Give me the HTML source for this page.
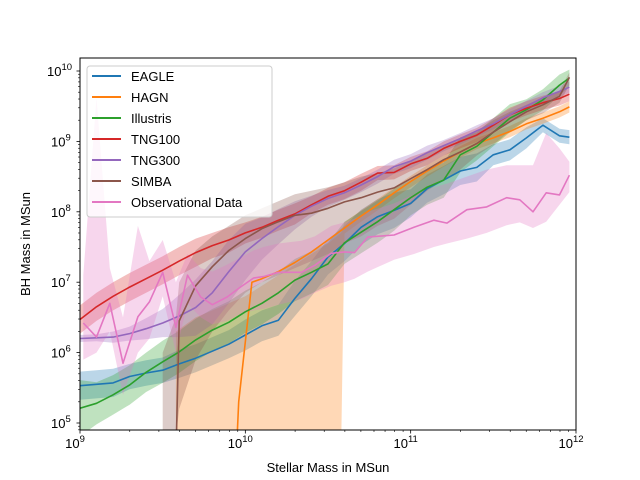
<!DOCTYPE html>
<html><head><meta charset="utf-8">
<style>
html,body{margin:0;padding:0;background:#fff;}
svg{display:block;font-family:"Liberation Sans","DejaVu Sans",sans-serif;}
</style></head>
<body>
<svg id="chart" width="640" height="480" viewBox="0 0 640 480">
<defs><clipPath id="clip"><rect x="80" y="58" width="496" height="372"/></clipPath></defs>
<rect x="0" y="0" width="640" height="480" fill="#fff"/>
<g clip-path="url(#clip)">
<g id="bands"></g>
<g id="lines"></g>
</g>
<rect x="80" y="58" width="496" height="372" fill="none" stroke="#000" stroke-width="1"/>
<g id="axes"></g>
<text x="328" y="472" text-anchor="middle" font-size="13">Stellar Mass in MSun</text>
<text transform="translate(30,244) rotate(-90)" text-anchor="middle" font-size="13">BH Mass in MSun</text>
<g id="legend"></g>
</svg>
<script>
// ---- data (log10 values) ----
const seriesNames = ["EAGLE","HAGN","Illustris","TNG100","TNG300","SIMBA","Observational Data"];
const seriesColors = ["#1f77b4","#ff7f0e","#2ca02c","#d62728","#9467bd","#8c564b","#e377c2"];
const gridX = [9.0,9.1,9.2,9.3,9.4,9.5,9.6,9.7,9.8,9.9,10.0,10.1,10.2,10.3,10.4,10.5,10.6,10.7,10.8,10.9,11.0,11.1,11.2,11.3,11.4,11.5,11.6,11.7,11.8,11.9,11.96];
const eagleY = [5.53,5.55,5.57,5.66,5.71,5.75,5.84,5.92,6.02,6.12,6.25,6.38,6.46,6.77,7.05,7.36,7.55,7.78,7.93,8.02,8.12,8.33,8.45,8.58,8.63,8.81,8.88,9.05,9.23,9.08,9.06];
const eagleW = [0.2,0.2,0.2,0.18,0.18,0.18,0.2,0.2,0.2,0.2,0.22,0.22,0.22,0.25,0.25,0.25,0.25,0.25,0.25,0.25,0.2,0.2,0.2,0.2,0.2,0.15,0.15,0.15,0.1,0.1,0.1];
const illustrisY = [5.21,5.28,5.40,5.54,5.72,5.87,6.01,6.18,6.32,6.43,6.58,6.70,6.85,7.03,7.14,7.26,7.56,7.71,7.86,8.03,8.20,8.35,8.45,8.81,8.93,9.13,9.33,9.45,9.59,9.80,9.90];
const illustrisW = [0.4,0.3,0.28,0.28,0.28,0.3,0.3,0.3,0.3,0.3,0.3,0.3,0.3,0.3,0.3,0.3,0.3,0.3,0.3,0.3,0.25,0.25,0.25,0.25,0.2,0.2,0.2,0.15,0.15,0.15,0.12];
const tng100Y = [6.47,6.65,6.80,6.93,7.05,7.17,7.30,7.42,7.52,7.60,7.70,7.78,7.88,7.97,8.10,8.22,8.30,8.42,8.55,8.56,8.68,8.76,8.90,9.00,9.09,9.23,9.38,9.47,9.55,9.61,9.67];
const tng100W = [0.2,0.2,0.2,0.2,0.2,0.2,0.2,0.2,0.18,0.18,0.15,0.15,0.15,0.15,0.12,0.12,0.12,0.12,0.1,0.1,0.1,0.1,0.1,0.1,0.1,0.1,0.1,0.1,0.1,0.1,0.1];
const tng300Y = [6.20,6.21,6.22,6.27,6.34,6.42,6.52,6.64,6.85,7.15,7.43,7.62,7.79,7.95,8.08,8.19,8.27,8.38,8.50,8.64,8.72,8.84,8.94,9.04,9.15,9.25,9.38,9.50,9.62,9.71,9.77];
const tng300W = [0.05,0.05,0.08,0.1,0.15,0.2,0.3,0.4,0.45,0.45,0.4,0.3,0.25,0.2,0.15,0.12,0.1,0.1,0.1,0.1,0.1,0.1,0.08,0.08,0.08,0.08,0.08,0.08,0.08,0.08,0.08];
const simbaX = [9.5,9.58,9.6,9.7,9.8,9.9,10.0,10.1,10.2,10.3,10.4,10.5,10.6,10.7,10.8,10.9,11.0,11.1,11.2,11.3,11.4,11.5,11.6,11.7,11.8,11.9,11.96];
const simbaY = [null,4.5,6.45,6.95,7.22,7.45,7.62,7.76,7.86,7.95,7.98,8.05,8.14,8.20,8.28,8.34,8.47,8.60,8.74,8.85,8.97,9.13,9.28,9.42,9.52,9.64,9.91];
const simbaLo = [4.8,4.8,5.2,5.9,6.3,6.6,6.85,7.0,7.1,7.2,7.3,7.4,7.55,7.65,7.8,7.9,8.1,8.3,8.45,8.6,8.8,8.95,9.15,9.3,9.4,9.55,9.8];
const simbaHi = [6.0,6.5,7.0,7.45,7.65,7.8,7.95,8.05,8.15,8.25,8.3,8.35,8.42,8.5,8.55,8.62,8.72,8.85,8.95,9.05,9.15,9.3,9.42,9.52,9.62,9.72,9.98];
const hagnX = [9.95,9.96,10.04,10.1,10.2,10.3,10.4,10.5,10.6,10.7,10.8,10.9,11.0,11.1,11.2,11.3,11.4,11.5,11.6,11.7,11.8,11.9,11.96];
const hagnY = [4.8,5.3,7.0,7.05,7.15,7.28,7.43,7.60,7.77,7.94,8.10,8.27,8.43,8.58,8.72,8.85,8.97,9.05,9.14,9.25,9.33,9.42,9.49];
const hagnFillX = [9.58,9.7,9.8,9.9,10.0,10.1,10.2,10.3,10.4,10.5,10.58];
const hagnFillHi = [6.3,6.5,6.6,6.7,6.8,6.95,7.1,7.25,7.4,7.55,7.7];
const obsX = [9.02,9.1,9.18,9.26,9.35,9.42,9.5,9.58,9.65,9.73,9.8,9.89,9.97,10.05,10.11,10.2,10.34,10.42,10.52,10.6,10.66,10.74,10.9,11.02,11.14,11.22,11.34,11.46,11.58,11.66,11.74,11.82,11.9,11.96];
const obsY = [6.42,6.22,6.70,5.85,6.51,6.72,7.14,6.36,7.10,6.79,6.68,6.79,6.93,7.06,7.08,7.14,7.14,7.24,7.41,7.43,7.42,7.64,7.67,7.78,7.88,7.84,8.03,8.07,8.20,8.17,8.00,8.27,8.24,8.52];
const obsHi = [7.1,9.62,7.2,6.5,7.8,7.3,7.6,7.0,7.4,7.2,7.15,7.25,7.35,7.45,7.5,7.55,7.59,7.65,7.8,7.85,7.9,8.0,8.12,8.25,8.35,8.4,8.5,8.6,8.66,8.66,8.66,9.12,8.9,8.71];
const obsLo = [5.9,6.0,6.3,5.4,6.0,6.2,6.8,6.0,6.7,6.5,6.4,6.45,6.55,6.6,6.62,6.68,6.76,6.85,6.95,7.0,7.05,7.15,7.32,7.4,7.5,7.55,7.62,7.7,7.81,7.85,7.77,7.86,8.1,8.28];
const xTickLabels = ["9","10","11","12"];
const yTickLabels = ["5","6","7","8","9","10"];

// ---- axis functions ----
const sx = l => 80 + (l - 9) * 496 / 3;
const sy = l => 71 + (10 - l) * 70.4;
const NS = "http://www.w3.org/2000/svg";
const bands = document.getElementById("bands");
const lines = document.getElementById("lines");
const axes = document.getElementById("axes");
function mk(tag, attrs, parent){ const e=document.createElementNS(NS,tag); for(const k in attrs) e.setAttribute(k,attrs[k]); parent.appendChild(e); return e; }
function clampY(v){ return v===null ? 4.5 : v; }
function linePath(xs, ys){ return xs.map((x,i)=>(i?"L":"M")+sx(x).toFixed(1)+","+sy(clampY(ys[i])).toFixed(1)).join(" "); }
function bandPath(xs, lo, hi){
  let d = xs.map((x,i)=>(i?"L":"M")+sx(x).toFixed(1)+","+sy(hi[i]).toFixed(1)).join(" ");
  for(let i=xs.length-1;i>=0;i--) d += " L"+sx(xs[i]).toFixed(1)+","+sy(lo[i]).toFixed(1);
  return d+" Z";
}
function drawBand(d, color, name){
  const p = mk("path",{d:d, fill:color, "fill-opacity":0.3, stroke:"none"}, bands);
  
  
}
function drawLine(d, color, name){
  const p = mk("path",{d:d, fill:"none", stroke:color, "stroke-width":1.6, "stroke-linejoin":"round"}, lines);
  
  
}
// EAGLE
drawBand(bandPath(gridX, eagleY.map((v,i)=>v-eagleW[i]), eagleY.map((v,i)=>v+eagleW[i])), seriesColors[0], "eagle-band");
drawLine(linePath(gridX, eagleY), seriesColors[0], "eagle-line");
// HAGN
{
  const tailX = hagnX.filter(x=>x>10.58), tailY = hagnY.filter((v,i)=>hagnX[i]>10.58);
  const bx = hagnFillX.concat(tailX);
  const hi = hagnFillHi.concat(tailY.map(v=>v+0.08));
  const lo = hagnFillX.map(()=>4.7).concat(tailY.map(v=>v-0.08));
  drawBand(bandPath(bx, lo, hi), seriesColors[1], "hagn-band");
  drawLine(linePath(hagnX, hagnY), seriesColors[1], "hagn-line");
}
// Illustris
drawBand(bandPath(gridX, illustrisY.map((v,i)=>v-illustrisW[i]), illustrisY.map((v,i)=>v+illustrisW[i])), seriesColors[2], "illustris-band");
drawLine(linePath(gridX, illustrisY), seriesColors[2], "illustris-line");
// TNG100
drawBand(bandPath(gridX, tng100Y.map((v,i)=>v-tng100W[i]), tng100Y.map((v,i)=>v+tng100W[i])), seriesColors[3], "tng100-band");
drawLine(linePath(gridX, tng100Y), seriesColors[3], "tng100-line");
// TNG300
drawBand(bandPath(gridX, tng300Y.map((v,i)=>v-tng300W[i]), tng300Y.map((v,i)=>v+tng300W[i])), seriesColors[4], "tng300-band");
drawLine(linePath(gridX, tng300Y), seriesColors[4], "tng300-line");
// SIMBA
drawBand(bandPath(simbaX, simbaLo, simbaHi), seriesColors[5], "simba-band");
drawLine(linePath(simbaX.slice(1), simbaY.slice(1)), seriesColors[5], "simba-line");
// Observational
drawBand(bandPath(obsX, obsLo, obsHi), seriesColors[6], "observational-band");
drawLine(linePath(obsX, obsY), seriesColors[6], "observational-line");

// ---- ticks ----
xTickLabels.forEach((lab,i)=>{
  const e = 9+i, x = sx(e);
  const t = mk("line",{x1:x,x2:x,y1:430,y2:433.5,stroke:"#000","stroke-width":0.8},axes);
  
  
  const tx = mk("text",{x:x-5,y:448,"font-size":13,"text-anchor":"middle"},axes);
  
  
  tx.textContent = "10";
  const sp = mk("tspan",{dx:0,dy:-6,"font-size":9.5},tx);
  sp.textContent = lab;
  if(e<12) for(let m=2;m<10;m++){
    const mx = sx(e+Math.log10(m));
    const mt = mk("line",{x1:mx,x2:mx,y1:430,y2:432,stroke:"#000","stroke-width":0.6},axes);
    
    
  }
});
yTickLabels.forEach((lab,i)=>{
  const e = 5+i, y = sy(e);
  const t = mk("line",{x1:76.5,x2:80,y1:y,y2:y,stroke:"#000","stroke-width":0.8},axes);
  
  
  const tx = mk("text",{x:lab.length>1?47:51,y:y+5,"font-size":13},axes);
  
  
  tx.textContent = "10";
  const sp = mk("tspan",{dx:0,dy:-6,"font-size":9.5},tx);
  sp.textContent = lab;
  for(let m=2;m<10;m++){
    for(const base of [e, e-1]){
      if(base!==e && e!==5) continue;
      const my = sy(base+Math.log10(m));
      if(my<58||my>430) continue;
      const mt = mk("line",{x1:78,x2:80,y1:my,y2:my,stroke:"#000","stroke-width":0.6},axes);
      
      
    }
  }
});

// ---- legend ----
const leg = document.getElementById("legend");
const box = mk("rect",{x:87,y:66,width:185,height:151,rx:3,fill:"#fff","fill-opacity":0.8,stroke:"#ccc","stroke-width":1},leg);


seriesNames.forEach((n,i)=>{
  const y = 76 + i*21;
  const l = mk("line",{x1:92,x2:121,y1:y,y2:y,stroke:seriesColors[i],"stroke-width":2},leg);
  
  
  const t = mk("text",{x:131,y:y+5,"font-size":13},leg);
  
  
  t.textContent = n;
});
</script>
</body></html>
